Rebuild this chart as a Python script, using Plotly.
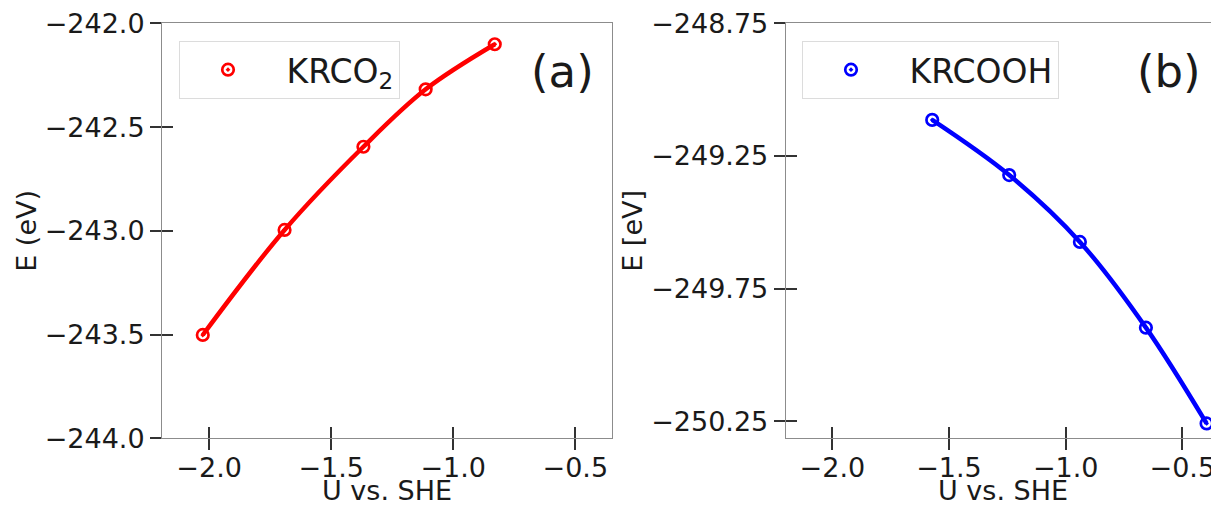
import plotly.graph_objects as go

# Energies vs. applied potential for the two adsorbates
u_krco2 = [-2.026, -1.691, -1.368, -1.113, -0.830]
e_krco2 = [-243.502, -242.996, -242.595, -242.318, -242.101]

u_krcooh = [-1.572, -1.242, -0.939, -0.656, -0.396]
e_krcooh = [-249.114, -249.322, -249.574, -249.897, -250.258]

x_ticks = [-2.0, -1.5, -1.0, -0.5]
y_ticks_a = [-244.0, -243.5, -243.0, -242.5, -242.0]
y_ticks_b = [-250.25, -249.75, -249.25, -248.75]

W, H = 1211, 505
FONT = "DejaVu Sans"
TXT = "#1a1a1a"
SPINE = "#8c8c8c"
TICK = "#333333"

RED = "#ff0000"
BLUE = "#0000ff"

ydom = [1 - 438.3 / H, 1 - 23.3 / H]
xdom_a = [162 / W, 611.7 / W]
xdom_b = [785.7 / W, 1.0]

xr_a = [-2.193, -0.351]
xr_b = [-2.2, -0.377]
yr_a = [-244.0, -242.0]
yr_b = [-250.314, -248.75]

fig = go.Figure()

# panel (a)
fig.add_trace(go.Scatter(x=u_krco2, y=e_krco2, mode="lines", line=dict(color=RED, width=4.5, shape="spline"),
                         showlegend=False, hoverinfo="skip", xaxis="x", yaxis="y"))
fig.add_trace(go.Scatter(x=u_krco2, y=e_krco2, mode="markers", name="&nbsp;KRCO<sub>2</sub>",
                         marker=dict(symbol="circle-open-dot", size=11.5, color=RED, line=dict(width=2.7, color=RED)),
                         xaxis="x", yaxis="y", legend="legend"))

# panel (b)
fig.add_trace(go.Scatter(x=u_krcooh, y=e_krcooh, mode="lines", line=dict(color=BLUE, width=4.5, shape="spline"),
                         showlegend=False, hoverinfo="skip", xaxis="x2", yaxis="y2"))
fig.add_trace(go.Scatter(x=u_krcooh, y=e_krcooh, mode="markers", name="&nbsp;KRCOOH",
                         marker=dict(symbol="circle-open-dot", size=11.5, color=BLUE, line=dict(width=2.7, color=BLUE)),
                         xaxis="x2", yaxis="y2", legend="legend2"))

# empty traces so the inner-tick overlay axes get drawn
for xa, ya in (("x3", "y3"), ("x4", "y4")):
    fig.add_trace(go.Scatter(x=[], y=[], xaxis=xa, yaxis=ya, showlegend=False, hoverinfo="skip"))

tickfont = dict(family=FONT, size=27, color=TXT)
titlefont = dict(family=FONT, size=27, color=TXT)


def xaxis(dom, rng, overlay=None, anchor=None):
    d = dict(domain=dom, range=rng, tickmode="array", tickvals=x_ticks, tickformat=".1f",
             showgrid=False, zeroline=False, tickcolor=TICK, tickwidth=1.5, ticklen=11,
             fixedrange=True)
    if overlay:
        d.update(overlaying=overlay, anchor=anchor, ticks="inside", showticklabels=False, showline=False)
    else:
        d.update(anchor=anchor, ticks="outside", tickfont=tickfont, showline=True, linecolor=SPINE,
                 linewidth=1, mirror=True, automargin=False, ticklabeloverflow="allow",
                 ticklabelstandoff=-6)
    return d


def yaxis(dom, rng, vals, fmt, overlay=None, anchor=None, mirror=True):
    d = dict(domain=dom, range=rng, tickmode="array", tickvals=vals, tickformat=fmt,
             showgrid=False, zeroline=False, tickcolor=TICK, tickwidth=1.5, ticklen=11,
             fixedrange=True)
    if overlay:
        d.update(overlaying=overlay, anchor=anchor, ticks="inside", showticklabels=False, showline=False)
    else:
        d.update(anchor=anchor, ticks="outside", tickfont=tickfont, showline=True, linecolor=SPINE,
                 linewidth=1, mirror=mirror, automargin=False)
    return d


legend_style = dict(xref="paper", yref="paper", xanchor="left", yanchor="top",
                    bgcolor="white", bordercolor="#dcdcdc", borderwidth=1,
                    font=dict(family=FONT, size=33, color=TXT), itemwidth=86)

ycenter = 1 - (23.3 + 438.3) / 2 / H


def label(text, x, y, angle=0):
    return dict(text=text, x=x / W, y=y, xref="paper", yref="paper", showarrow=False,
                xanchor="center", yanchor="middle", textangle=angle, font=titlefont)


fig.update_layout(
    width=W, height=H,
    margin=dict(l=0, r=0, t=0, b=0),
    paper_bgcolor="white", plot_bgcolor="white",
    xaxis=xaxis(xdom_a, xr_a, anchor="y"),
    yaxis=yaxis(ydom, yr_a, y_ticks_a, ".1f", anchor="x"),
    xaxis2=xaxis(xdom_b, xr_b, anchor="y2"),
    yaxis2=yaxis(ydom, yr_b, y_ticks_b, ".2f", anchor="x2", mirror=False),
    xaxis3=xaxis(xdom_a, xr_a, overlay="x", anchor="y3"),
    yaxis3=yaxis(ydom, yr_a, y_ticks_a, ".1f", overlay="y", anchor="x3"),
    xaxis4=xaxis(xdom_b, xr_b, overlay="x2", anchor="y4"),
    yaxis4=yaxis(ydom, yr_b, y_ticks_b, ".2f", overlay="y2", anchor="x4"),
    legend=dict(x=179 / W, y=1 - 40.7 / H, **legend_style),
    legend2=dict(x=802 / W, y=1 - 40.7 / H, **legend_style),
    annotations=[
        label("U vs. SHE", 386.5, 1 - 490 / H),
        label("U vs. SHE", 1003, 1 - 490 / H),
        label("E (eV)", 27, ycenter, -90),
        label("E [eV]", 633, ycenter, -90),
        dict(text="(a)", x=562 / W, y=1 - 71 / H, xref="paper", yref="paper", showarrow=False,
             xanchor="center", yanchor="middle", font=dict(family=FONT, size=45, color=TXT)),
        dict(text="(b)", x=1169 / W, y=1 - 71 / H, xref="paper", yref="paper", showarrow=False,
             xanchor="center", yanchor="middle", font=dict(family=FONT, size=45, color=TXT)),
    ],
)

fig.write_html("out.html")
